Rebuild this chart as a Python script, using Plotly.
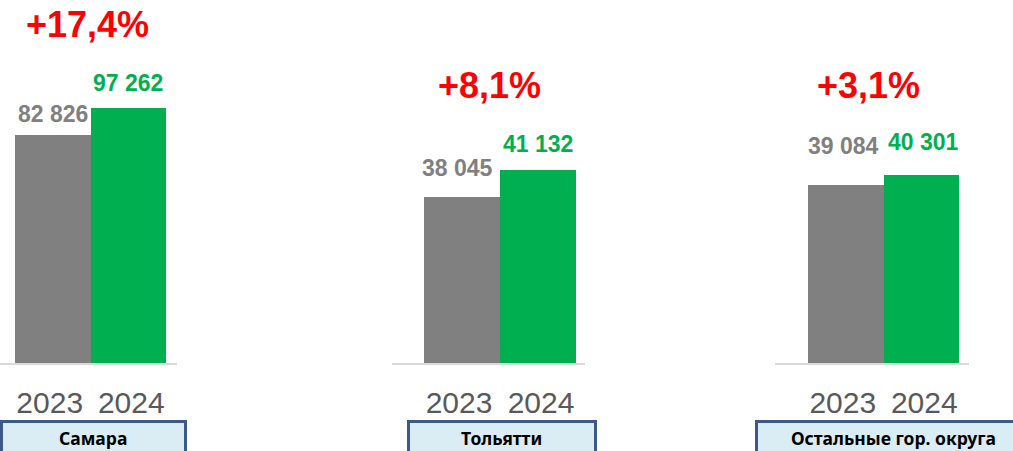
import plotly.graph_objects as go

# ---- data ----
groups = ["Самара", "Тольятти", "Остальные гор. округа"]
years = ["2023", "2024"]
values_2023 = [82826, 38045, 39084]
values_2024 = [97262, 41132, 40301]
growth_labels = ["+17,4%", "+8,1%", "+3,1%"]

# ---- style / layout ----
W, H = 1013, 451
GRAY = "#808080"
GREEN = "#00b050"
RED = "#ff0000"

def px_x(p):
    return p / W

def px_y(p):
    return 1 - p / H

# per-group axis layout (pixel domains and ranges)
x_domains_px = [(0, 177), (392, 585), (775, 969)]
x_ranges = [(-0.698, 1.645), (-0.921, 1.618), (-0.937, 1.632)]
y_ranges = [(-37739, 154213), (18817, 60787), (17422, 61599)]
plot_bottom_px = 363
label_shift_2023 = [(0, 6), (-5, 14), (-2, 24)]
label_shift_2024 = [(0, 10), (0, 11), (2, 18)]
growth_pos_px = [(87.5, 25), (489.5, 85.5), (868, 85.5)]
box_px = [(0, 187), (407, 597), (755, 1030)]
box_text_x_px = [93, 501, 893.5]

fig = go.Figure()
annotations = []
shapes = []

for i, g in enumerate(groups):
    sfx = "" if i == 0 else str(i + 1)
    xa, ya = "x" + sfx, "y" + sfx
    base = y_ranges[i][0]
    vals = [values_2023[i], values_2024[i]]
    fig.add_trace(go.Bar(
        x=years, y=[v - base for v in vals], base=[base, base],
        marker=dict(color=[GRAY, GREEN], line=dict(width=0)),
        width=[1, 1], xaxis=xa, yaxis=ya, showlegend=False,
        hoverinfo="skip",
    ))
    fig.layout["xaxis" + sfx] = dict(
        domain=[px_x(x_domains_px[i][0]), px_x(x_domains_px[i][1])],
        anchor=ya, type="category", range=list(x_ranges[i]),
        showline=True, linecolor="#d9d9d9", linewidth=2,
        showgrid=False, zeroline=False, ticks="",
        tickmode="array", tickvals=[0, 1],
        ticktext=[years[0] + "\u2009", "\u2009" + years[1]],
        tickfont=dict(family="Liberation Sans, Arial", size=30, color="#595959"),
        ticklabelstandoff=12,
    )
    fig.layout["yaxis" + sfx] = dict(
        domain=[px_y(plot_bottom_px), 1], anchor=xa,
        range=list(y_ranges[i]), visible=False, showgrid=False, zeroline=False,
    )
    # value labels
    for j, (v, col, sh) in enumerate([(values_2023[i], GRAY, label_shift_2023[i]),
                                      (values_2024[i], GREEN, label_shift_2024[i])]):
        annotations.append(dict(
            x=j, y=v, xref=xa, yref=ya, yanchor="bottom", xanchor="center",
            text=f"{v:,}".replace(",", " "), showarrow=False,
            xshift=sh[0], yshift=sh[1],
            font=dict(family="Liberation Sans, Arial", size=23, color=col, weight="bold"),
        ))
    # growth labels
    gx, gy = growth_pos_px[i]
    annotations.append(dict(
        x=px_x(gx), y=px_y(gy), xref="paper", yref="paper",
        xanchor="center", yanchor="middle", text=growth_labels[i], showarrow=False,
        font=dict(family="Liberation Sans, Arial", size=36, color=RED, weight="bold"),
    ))
    # group name box
    bx0, bx1 = box_px[i]
    shapes.append(dict(
        type="rect", xref="paper", yref="paper",
        x0=px_x(bx0 + 1.5), x1=px_x(bx1 - 1.5), y0=px_y(460), y1=px_y(421.5),
        fillcolor="#daedf4", line=dict(color="#3b5a8a", width=3), layer="above",
    ))
    annotations.append(dict(
        x=px_x(box_text_x_px[i]), y=px_y(438), xref="paper", yref="paper",
        xanchor="center", yanchor="middle", text=groups[i], showarrow=False,
        font=dict(family="Noto Sans, Arial", size=17.5, color="#000000", weight="bold"),
    ))

fig.update_layout(
    width=W, height=H,
    margin=dict(l=0, r=0, t=0, b=0, autoexpand=False),
    paper_bgcolor="white", plot_bgcolor="white",
    bargap=0, annotations=annotations, shapes=shapes,
)

fig.write_html("out.html", config={"displayModeBar": False},
               post_script="document.body.style.margin='0';document.body.style.overflow='hidden';")
